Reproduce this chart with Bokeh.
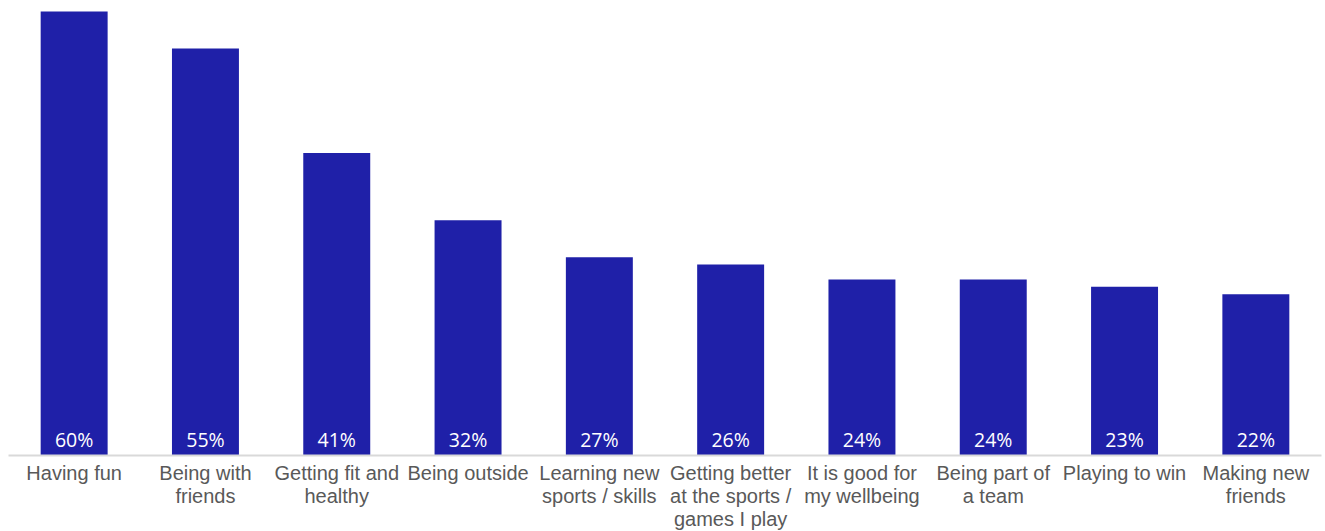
from bokeh.plotting import figure
from bokeh.models import Range1d, FixedTicker, ColumnDataSource
from bokeh.core.properties import value
from bokeh.embed import file_html
from bokeh.resources import INLINE

categories = ["Having fun", "Being with\nfriends", "Getting fit and\nhealthy", "Being outside",
              "Learning new\nsports / skills", "Getting better\nat the sports /\ngames I play",
              "It is good for\nmy wellbeing", "Being part of\na team", "Playing to win",
              "Making new\nfriends"]
values = [60.0, 55.0, 40.9, 31.8, 26.8, 25.8, 23.8, 23.8, 22.8, 21.8]
labels = [f"{round(v):d}%" for v in values]

xs = list(range(len(categories)))
src = ColumnDataSource(dict(x=xs, top=values, label=labels))

p = figure(frame_width=1313, frame_height=455, output_backend="svg", toolbar_location=None,
           x_range=Range1d(-0.5, len(categories) - 0.5), y_range=Range1d(0, 61.5),
           y_axis_location=None, min_border_left=8, min_border_right=4,
           min_border_top=0, min_border_bottom=76)
p.outline_line_color = None
p.xgrid.visible = False
p.ygrid.visible = False

p.vbar(x="x", top="top", width=0.51, source=src, fill_color="#1F20A8", line_color=None)
p.text(x="x", y=2.1, text="label", source=src, text_color="white",
       text_font=value("Open Sans"), text_font_size="19.5px", text_align="center",
       text_baseline="alphabetic")

ax = p.xaxis[0]
ax.ticker = FixedTicker(ticks=xs)
ax.major_label_overrides = {i: c for i, c in enumerate(categories)}
ax.axis_line_color = "#D9D9D9"
ax.axis_line_width = 2
ax.major_tick_line_color = None
ax.minor_tick_line_color = None
ax.major_label_text_font = "Liberation Sans"
ax.major_label_text_font_size = "20px"
ax.major_label_text_color = "#595959"
ax.major_label_text_line_height = 1.05
ax.major_label_standoff = 0

open("out.html", "w").write(file_html(p, INLINE))
